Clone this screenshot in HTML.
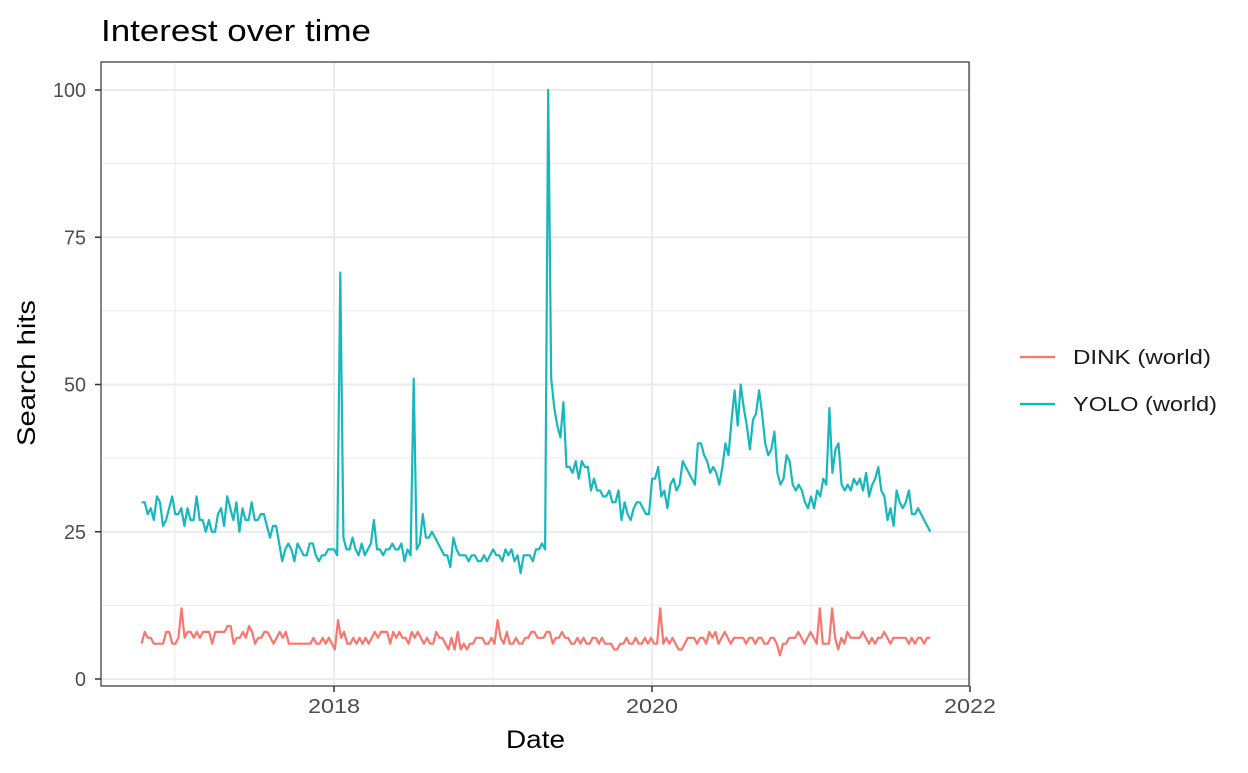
<!DOCTYPE html>
<html><head><meta charset="utf-8"><style>
body{margin:0;background:#fff;font-family:"Liberation Sans",Arial,sans-serif}
svg text{font-family:"Liberation Sans",Arial,sans-serif}
</style></head><body>
<svg id="chart" width="1248" height="768">
<text x="101" y="41" font-size="31" textLength="270" lengthAdjust="spacingAndGlyphs" fill="#000">Interest over time</text>
<g id="grid"></g>
<g id="lines"></g>
<rect x="101" y="62" width="868" height="624" fill="none" stroke="#333" stroke-width="1.2"/>
<g id="axes"></g>
<text x="506" y="748" font-size="25" textLength="59" lengthAdjust="spacingAndGlyphs">Date</text>
<text transform="translate(35,446) rotate(-90)" font-size="25" textLength="146" lengthAdjust="spacingAndGlyphs">Search hits</text>
<g>
<line x1="1020" y1="357" x2="1055" y2="357" stroke="#F8766D" stroke-width="2.2"/>
<text x="1073" y="364" font-size="20" textLength="138" lengthAdjust="spacingAndGlyphs" fill="#1a1a1a">DINK (world)</text>
<line x1="1020" y1="404" x2="1055" y2="404" stroke="#00BFC4" stroke-width="2.2"/>
<text x="1073" y="411" font-size="20" textLength="144" lengthAdjust="spacingAndGlyphs" fill="#1a1a1a">YOLO (world)</text>
</g>
</svg>
<script>
const yTicks=[0,25,50,75,100];
const xTicks=[2018,2020,2022];
const startYear=2016.79;
const endYear=2021.75;
const yolo=[30,30,28,29,27,31,30,26,27,29,31,28,28,29,26,29,27,27,31,27,27,25,27,25,25,28,29,26,31,29,27,30,25,29,27,27,30,27,27,28,28,26,24,26,26,23,20,22,23,22,20,23,22,21,21,23,23,21,20,21,21,22,22,22,21,
69,24,22,22,24,22,21,23,21,22,23,27,22,22,21,22,22,23,22,22,23,20,22,21,51,
22,23,28,24,24,25,24,23,22,21,21,19,24,22,21,21,21,20,21,21,20,20,21,20,21,22,21,21,20,22,21,22,20,21,18,21,21,21,20,22,22,23,22,100,
51,46,43,41,47,36,36,35,37,34,37,36,36,32,34,32,32,31,31,32,30,30,32,27,30,28,27,29,30,30,29,28,28,34,34,36,31,32,29,33,34,32,33,37,36,35,34,33,40,40,38,37,35,36,35,33,36,40,38,44,49,43,50,46,43,39,44,45,49,45,40,38,39,42,35,33,34,38,37,33,32,33,32,30,29,31,29,32,31,34,33,46,35,39,40,33,32,33,32,34,33,34,32,35,31,33,34,36,32,31,27,29,26,32,30,29,30,32,28,28,29,28,27,26,25];
const dink=[6,8,7,7,6,6,6,6,8,8,6,6,7,12,7,8,8,7,8,7,8,8,8,6,8,8,8,8,9,9,6,7,7,8,7,9,8,6,7,7,8,8,7,6,7,8,7,8,6,6,6,6,6,6,6,6,7,6,6,7,6,7,6,5,
10,7,8,6,6,7,6,7,6,7,6,7,8,7,8,8,8,6,8,7,8,7,7,6,8,7,8,7,6,7,6,6,8,7,7,6,5,7,5,8,5,6,5,6,6,7,7,7,6,6,7,6,
10,7,6,8,6,6,7,6,6,7,7,8,8,7,7,7,8,8,6,7,7,8,7,7,6,6,7,6,7,6,6,7,7,6,7,6,6,6,5,5,6,6,7,6,6,7,6,6,7,6,7,6,6,
12,6,7,6,7,6,5,5,6,7,7,7,6,7,7,6,8,7,8,6,7,8,7,6,7,7,7,7,6,7,7,6,7,7,6,6,7,7,6,4,6,6,7,7,7,8,7,6,7,8,7,6,
12,6,6,6,12,7,5,7,6,8,7,7,7,7,8,7,6,7,6,7,7,8,7,6,7,7,7,7,7,6,7,6,7,7,6,7,7];
const X=y=>334+(y-2018)*159;
const Y=v=>679-v*5.89;
const ns="http://www.w3.org/2000/svg";
const grid=document.getElementById('grid'),axes=document.getElementById('axes'),lines=document.getElementById('lines');
function mk(tag,attrs,parent){const e=document.createElementNS(ns,tag);for(const k in attrs)e.setAttribute(k,attrs[k]);parent.appendChild(e);return e;}
for(let i=0;i<yTicks.length;i++){const v=yTicks[i];
 const g=mk('line',{x1:101,x2:969,y1:Y(v),y2:Y(v),stroke:'#ebebeb','stroke-width':2},grid);
 
 
 if(i<yTicks.length-1){const m=mk('line',{x1:101,x2:969,y1:Y(v+12.5),y2:Y(v+12.5),stroke:'#ebebeb','stroke-width':1},grid);
 
 }
 mk('line',{x1:95,x2:101,y1:Y(v),y2:Y(v),stroke:'#333','stroke-width':1.5},axes);
 const s=String(v);
 const t=mk('text',{x:86,y:Y(v)+7,'font-size':20,'text-anchor':'end',fill:'#4d4d4d',textLength:s.length*11,lengthAdjust:'spacingAndGlyphs'},axes);t.textContent=s;
 
 
}
for(const yr of [2017,2019,2021]){const m=mk('line',{x1:X(yr),x2:X(yr),y1:62,y2:686,stroke:'#ebebeb','stroke-width':1},grid);
 
 }
for(const yr of xTicks){
 const g=mk('line',{x1:X(yr),x2:X(yr),y1:62,y2:686,stroke:'#ebebeb','stroke-width':2},grid);
 
 
 mk('line',{x1:X(yr),x2:X(yr),y1:686,y2:692,stroke:'#333','stroke-width':1.5},axes);
 const t=mk('text',{x:X(yr)-26,y:713,'font-size':20,fill:'#4d4d4d',textLength:52,lengthAdjust:'spacingAndGlyphs'},axes);t.textContent=yr;
 
 
}
function series(arr,color,name){
 const step=(endYear-startYear)/(arr.length-1);
 const pts=arr.map((v,i)=>X(startYear+i*step).toFixed(1)+','+Y(v).toFixed(1)).join(' ');
 const p=mk('polyline',{points:pts,fill:'none',stroke:color,'stroke-width':2.2,'stroke-linejoin':'round'},lines);
 
 
}
series(dink,'#F8766D','dink-line');
series(yolo,'#17B8BC','yolo-line');
</script>
</body></html>
